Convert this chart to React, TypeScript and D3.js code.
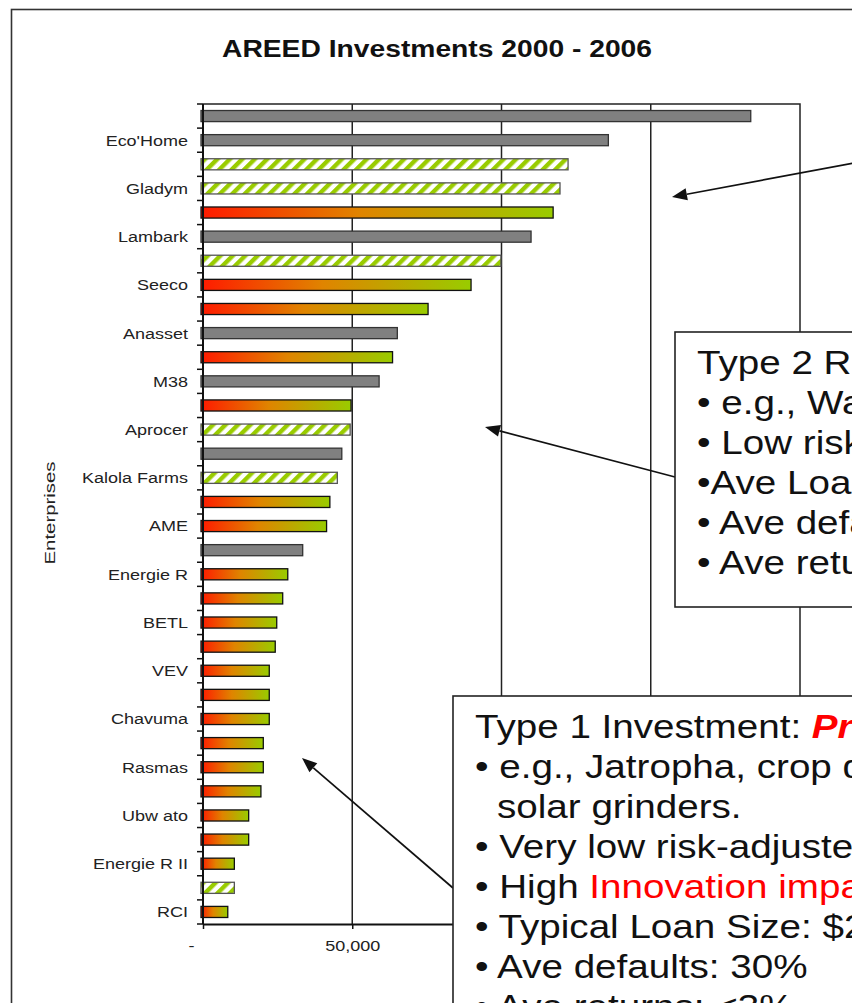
import React, { FC, useEffect, useRef } from "react";
import * as d3 from "d3";

// Enterprises from top to bottom (Excel hid every other label)
const enterprises = [
    "", "Eco'Home", "", "Gladym", "", "Lambark", "", "Seeco", "", "Anasset",
    "", "M38", "", "Aprocer", "", "Kalola Farms", "", "AME", "", "Energie R",
    "", "BETL", "", "VEV", "", "Chavuma", "", "Rasmas", "", "Ubw ato",
    "", "Energie R II", "", "RCI",
];

// Investment amounts (USD)
const investments = [
    183500, 135800, 122300, 119600, 117300, 109900, 99800, 89800, 75400, 65100,
    63500, 59000, 49600, 49300, 46500, 45000, 42500, 41400, 33400, 28400,
    26700, 24700, 24200, 22200, 22200, 22200, 20200, 20200, 19400, 15300,
    15300, 10500, 10500, 8300,
];

// gray = type 3, hatch = type 2, grad = type 1
const barTypes = [
    "gray", "gray", "hatch", "hatch", "grad", "gray", "hatch", "grad", "grad", "gray",
    "grad", "gray", "grad", "hatch", "gray", "hatch", "grad", "grad", "gray", "grad",
    "grad", "grad", "grad", "grad", "grad", "grad", "grad", "grad", "grad", "grad",
    "grad", "grad", "hatch", "grad",
];

const xTicks = [0, 50000, 100000, 150000, 200000];
// only the first two labels are visible, the rest sit under the Type 1 box
const xTickLabels = ["-", "50,000"];

const type2Lines = [
    "Type 2 Replication",
    "• e.g., Water pumps, solar PV",
    "• Low risk-adjusted returns",
    "•Ave Loan Size: $50,000",
    "• Ave defaults: 10%",
    "• Ave returns: 8%",
];

const AreedChart: FC = () => {
    const svgRef = useRef<SVGSVGElement>(null);

    useEffect(() => {
        if (!svgRef.current) return;
        d3.select(svgRef.current).selectAll("*").remove();

        const W = 852, H = 1003;
        const plot = { left: 203, right: 800, top: 104, bottom: 924 };
        const font = "'Liberation Sans', Arial, sans-serif";

        const svg = d3.select(svgRef.current)
            .attr("width", W)
            .attr("height", H);

        // patterns and gradients
        const defs = svg.append("defs");
        const grad = defs.append("linearGradient").attr("id", "redGreen")
            .attr("x1", 0).attr("x2", 1).attr("y1", 0).attr("y2", 0);
        grad.append("stop").attr("offset", "0%").attr("stop-color", "#ff1a00");
        grad.append("stop").attr("offset", "45%").attr("stop-color", "#e08400");
        grad.append("stop").attr("offset", "100%").attr("stop-color", "#99cc00");

        const pat = defs.append("pattern").attr("id", "hatch")
            .attr("patternUnits", "userSpaceOnUse")
            .attr("width", 8.8).attr("height", 8.8)
            .attr("patternTransform", "rotate(45)");
        pat.append("rect").attr("width", 8.8).attr("height", 8.8).attr("fill", "#fff");
        pat.append("rect").attr("width", 4.4).attr("height", 8.8).attr("fill", "#99cc00");

        svg.append("rect").attr("width", W).attr("height", H).attr("fill", "#fff");

        // outer frame
        svg.append("rect")
            .attr("x", 11.5).attr("y", 9.5)
            .attr("width", 900).attr("height", 1100)
            .attr("fill", "none").attr("stroke", "#333").attr("stroke-width", 1.6);

        // title
        svg.append("text")
            .attr("x", 437).attr("y", 57)
            .attr("text-anchor", "middle")
            .attr("textLength", 430).attr("lengthAdjust", "spacingAndGlyphs")
            .style("font-family", font).style("font-size", "23px").style("font-weight", "bold")
            .style("fill", "#111")
            .text("AREED Investments 2000 - 2006");

        // scales
        const x = d3.scaleLinear().domain([0, 200000]).range([plot.left, plot.right]);
        const y = d3.scaleBand<number>()
            .domain(d3.range(investments.length))
            .range([plot.top, plot.bottom])
            .paddingInner(0.54).paddingOuter(0.27);
        const step = y.step();

        // gridlines
        svg.append("g").selectAll("line")
            .data(xTicks.slice(1, -1))
            .enter().append("line")
            .attr("x1", d => x(d)).attr("x2", d => x(d))
            .attr("y1", plot.top).attr("y2", plot.bottom)
            .attr("stroke", "#222").attr("stroke-width", 1.5);

        // plot border (top, right)
        svg.append("path")
            .attr("d", `M${plot.left},${plot.top}H${plot.right}V${plot.bottom}`)
            .attr("fill", "none").attr("stroke", "#222").attr("stroke-width", 1.5);

        // bars
        const data = investments.map((v, i) => ({ i, v, type: barTypes[i] }));
        svg.append("g").selectAll("rect")
            .data(data)
            .enter().append("rect")
            .attr("x", x(0) - 2)
            .attr("y", d => y(d.i) || 0)
            .attr("width", d => x(d.v) - x(0) + 2)
            .attr("height", y.bandwidth())
            .attr("fill", d => d.type === "gray" ? "#808080" : d.type === "hatch" ? "url(#hatch)" : "url(#redGreen)")
            .attr("stroke", d => d.type === "gray" ? "#333" : d.type === "hatch" ? "#555" : "#111")
            .attr("stroke-width", 1.3);

        // y axis
        svg.append("line")
            .attr("x1", plot.left).attr("x2", plot.left)
            .attr("y1", plot.top).attr("y2", plot.bottom)
            .attr("stroke", "#111").attr("stroke-width", 2);
        svg.append("g").selectAll("line")
            .data(d3.range(investments.length + 1))
            .enter().append("line")
            .attr("x1", plot.left - 6).attr("x2", plot.left)
            .attr("y1", d => plot.top + d * step).attr("y2", d => plot.top + d * step)
            .attr("stroke", "#111").attr("stroke-width", 1.5);

        svg.append("g").selectAll("g")
            .data(enterprises.map((name, i) => ({ name, i })).filter(d => d.name))
            .enter().append("g")
            .attr("transform", d => `translate(188,${(y(d.i) || 0) + y.bandwidth() / 2 + 5.4}) scale(1.2,1)`)
            .append("text")
            .attr("text-anchor", "end")
            .style("font-family", font).style("font-size", "15px").style("fill", "#222")
            .text(d => d.name);

        svg.append("text")
            .attr("transform", "translate(55,513) rotate(-90)")
            .attr("text-anchor", "middle")
            .attr("textLength", 103).attr("lengthAdjust", "spacingAndGlyphs")
            .style("font-family", font).style("font-size", "15px").style("fill", "#222")
            .text("Enterprises");

        // x axis
        const xAxis = svg.append("g")
            .attr("transform", `translate(0,${plot.bottom})`)
            .call(d3.axisBottom(x).tickValues(xTicks).tickSize(5).tickSizeOuter(0)
                .tickFormat((_, i) => xTickLabels[i] || ""));
        xAxis.select(".domain").attr("stroke", "#111").attr("stroke-width", 2);
        xAxis.selectAll(".tick line").attr("stroke", "#111").attr("stroke-width", 1.5);
        xAxis.selectAll(".tick text")
            .attr("y", 0).attr("dy", 0)
            .attr("transform", (_, i) => `translate(${i === 0 ? -12 : 0},27) scale(1.2,1)`)
            .style("font-family", font).style("font-size", "15px").style("fill", "#222");

        // arrows
        const arrow = (x1: number, y1: number, x2: number, y2: number) => {
            const a = Math.atan2(y2 - y1, x2 - x1);
            const len = 15, half = 6;
            const bx = x2 - len * Math.cos(a), by = y2 - len * Math.sin(a);
            svg.append("line")
                .attr("x1", x1).attr("y1", y1).attr("x2", bx).attr("y2", by)
                .attr("stroke", "#111").attr("stroke-width", 1.7);
            svg.append("polygon")
                .attr("points", [
                    [x2, y2],
                    [bx + half * Math.sin(a), by - half * Math.cos(a)],
                    [bx - half * Math.sin(a), by + half * Math.cos(a)],
                ].map(p => p.join(",")).join(" "))
                .attr("fill", "#111");
        };
        arrow(870, 160, 672, 197);
        arrow(675, 477, 485, 427);
        arrow(453, 888, 302, 758);

        // text boxes
        const boxText = (g: any, x0: number, y0: number) =>
            g.append("g")
                .attr("transform", `translate(${x0},${y0}) scale(1.17,1)`)
                .append("text")
                .style("font-family", font).style("font-size", "33px").style("fill", "#111");

        const box2 = svg.append("g");
        box2.append("rect")
            .attr("x", 675).attr("y", 332).attr("width", 300).attr("height", 275)
            .attr("fill", "#fff").attr("stroke", "#222").attr("stroke-width", 1.6);
        type2Lines.forEach((line, i) => {
            boxText(box2, 697, 374 + i * 40).text(line);
        });

        const box1 = svg.append("g");
        box1.append("rect")
            .attr("x", 453).attr("y", 696).attr("width", 500).attr("height", 400)
            .attr("fill", "#fff").attr("stroke", "#222").attr("stroke-width", 1.6);
        const t1 = boxText(box1, 475, 738);
        t1.append("tspan").text("Type 1 Investment: ");
        t1.append("tspan").style("fill", "#ff0000").style("font-weight", "bold")
            .style("font-style", "italic").text("Proof of Concept");
        boxText(box1, 475, 778).text("• e.g., Jatropha, crop dryers,");
        boxText(box1, 497, 818).text("solar grinders.");
        boxText(box1, 475, 858).text("• Very low risk-adjusted returns");
        const t5 = boxText(box1, 475, 898);
        t5.append("tspan").text("• High ");
        t5.append("tspan").style("fill", "#ff0000").text("Innovation impact");
        boxText(box1, 475, 938).text("• Typical Loan Size: $20,000");
        boxText(box1, 475, 978).text("• Ave defaults: 30%");
        boxText(box1, 475, 1018).text("• Ave returns: <3%");
    }, []);

    return <svg ref={svgRef} style={{ display: "block" }}></svg>;
};

export default function App() {
    return (
        <div style={{ position: "absolute", left: 0, top: 0, width: 852, height: 1003, overflow: "hidden" }}>
            <AreedChart />
        </div>
    );
}
